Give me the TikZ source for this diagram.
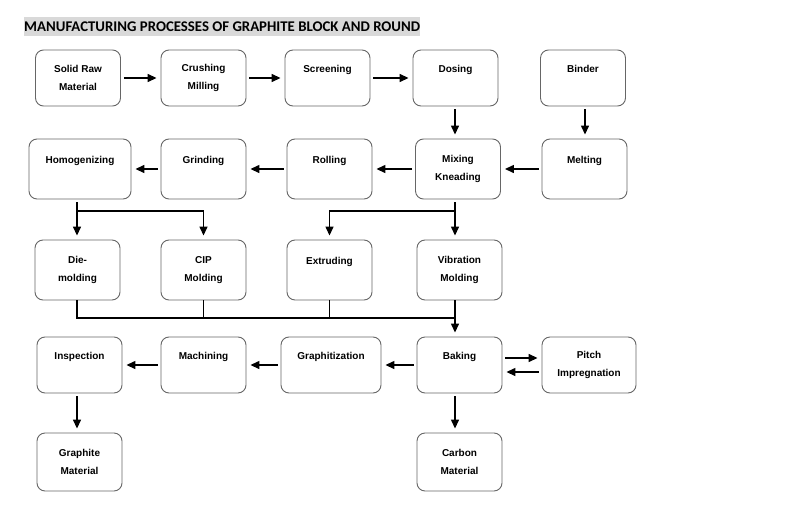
\documentclass[tikz,border=0pt]{standalone}
\usepackage{fontspec}
\setmainfont{Liberation Sans}
\newfontfamily\titlefont{Carlito}
\usetikzlibrary{arrows.meta}

\begin{document}
\begin{tikzpicture}[x=1pt, y=-1pt]
	\tikzstyle{every node}=[inner sep=1pt, align=center]
	\tikzstyle{box}=[draw=black!60, line width=0.9pt, rounded corners=8pt, minimum width=85pt, minimum height=56pt, font=\bfseries\fontsize{10}{18}\selectfont]
	\tikzstyle{arr}=[-{Triangle[length=9pt, width=8pt]}, line width=1.4pt, shorten <=3pt, shorten >=4pt]
	\tikzstyle{line}=[line width=1.4pt]
	\useasboundingbox (0,0) rectangle (800,511);
	\node[fill=black!15, anchor=west, minimum height=19pt, inner xsep=0pt, font=\titlefont\bfseries\fontsize{14.8}{16}\selectfont] (title) at (24,27) {MANUFACTURING PROCESSES OF GRAPHITE BLOCK AND ROUND};
	% first row
	\node[box] (raw) at (78,78) {Solid Raw\\Material};
	\node[box] (crush) at (203.5,78) {Crushing\\Milling};
	\node[box] (screen) at (327.5,78) {Screening\\\mbox{}};
	\node[box] (dose) at (455.5,78) {Dosing\\\mbox{}};
	\node[box] (binder) at (583,78) {Binder\\\mbox{}};
	% second row
	\node[box, minimum width=102pt, minimum height=60pt] (homog) at (80,169) {Homogenizing\\\mbox{}};
	\node[box, minimum height=60pt] (grind) at (203.5,169) {Grinding\\\mbox{}};
	\node[box, minimum height=60pt] (roll) at (329.5,169) {Rolling\\\mbox{}};
	\node[box, minimum height=60pt] (mix) at (458,169) {Mixing\\Kneading};
	\node[box, minimum height=60pt] (melt) at (584.5,169) {Melting\\\mbox{}};
	% third row
	\node[box, minimum height=60pt] (die) at (77.5,270) {Die-\\molding};
	\node[box, minimum height=60pt] (cip) at (203.5,270) {CIP\\Molding};
	\node[box, minimum height=60pt] (extr) at (329.5,270) {Extruding\\\mbox{}};
	\node[box, minimum height=60pt] (vib) at (459.5,270) {Vibration\\Molding};
	% fourth row
	\node[box] (insp) at (79.5,365) {Inspection\\\mbox{}};
	\node[box] (mach) at (203.5,365) {Machining\\\mbox{}};
	\node[box, minimum width=100pt] (graph) at (331,365) {Graphitization\\\mbox{}};
	\node[box] (bake) at (459.5,365) {Baking\\\mbox{}};
	\node[box, minimum width=94pt] (pitch) at (589,365) {Pitch\\Impregnation};
	% last row
	\node[box, minimum height=58pt] (gmat) at (79.5,462) {Graphite\\Material};
	\node[box, minimum height=58pt] (cmat) at (459.5,462) {Carbon\\Material};
	\coordinate (j1) at (77,211);
	\coordinate (j2) at (455,211);
	\coordinate (j3) at (455,318);
	\draw [arr] (raw) -- (crush);
	\draw [arr] (crush) -- (screen);
	\draw [arr] (screen) -- (dose);
	\draw [arr] (dose.south -| 455,0) -- (mix.north -| 455,0);
	\draw [arr] (binder.south -| 585,0) -- (melt.north -| 585,0);
	\draw [arr] (melt) -- (mix);
	\draw [arr] (mix) -- (roll);
	\draw [arr] (roll) -- (grind);
	\draw [arr] (grind) -- (homog);
	\draw [arr] (homog.south -| j1) -- (die.north -| j1);
	\draw [arr, shorten <=0pt] (j1) -| (cip.north);
	\draw [arr] (mix.south -| j2) -- (vib.north -| j2);
	\draw [arr, shorten <=0pt] (j2) -| (extr.north);
	\draw [line] (die.south -| j1) |- (j3);
	\draw [line] (cip.south) -- (cip.south |- j3);
	\draw [line] (extr.south) -- (extr.south |- j3);
	\draw [arr, shorten <=0pt] (vib.south -| j3) -- (bake.north -| j3);
	\draw [arr] ([yshift=7pt]bake.east) -- ([yshift=7pt]pitch.west);
	\draw [arr] ([yshift=-7pt]pitch.west) -- ([yshift=-7pt]bake.east);
	\draw [arr] (bake) -- (graph);
	\draw [arr] (graph) -- (mach);
	\draw [arr] (mach) -- (insp);
	\draw [arr] (insp.south -| 77,0) -- (gmat.north -| 77,0);
	\draw [arr] (bake.south -| j3) -- (cmat.north -| j3);
\end{tikzpicture}
\end{document}
